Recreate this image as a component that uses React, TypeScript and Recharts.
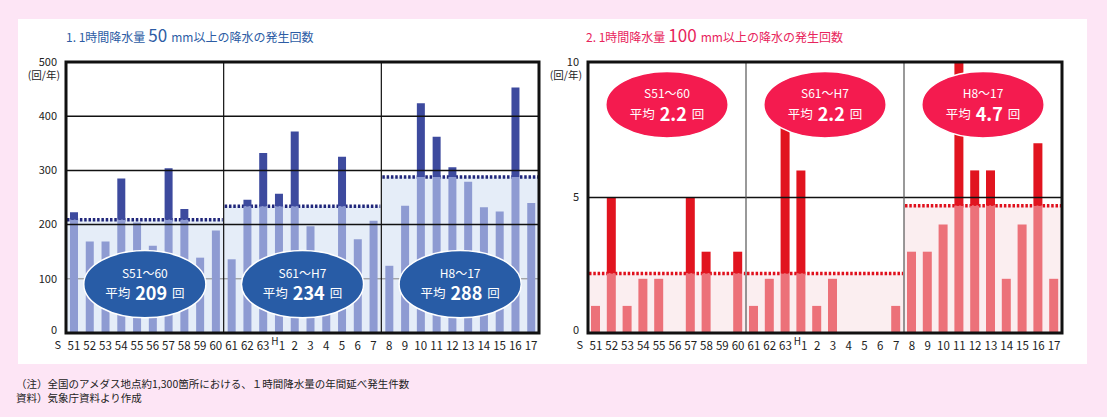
import { BarChart, Bar, XAxis, YAxis, ReferenceArea, ReferenceLine } from "recharts";

const FONT = '"Noto Sans CJK JP", "Noto Sans", sans-serif';

// 年次（S=昭和, H=平成）
const categories = [
  "S51", "S52", "S53", "S54", "S55", "S56", "S57", "S58", "S59", "S60",
  "S61", "S62", "S63", "H1", "H2", "H3", "H4", "H5", "H6", "H7",
  "H8", "H9", "H10", "H11", "H12", "H13", "H14", "H15", "H16", "H17",
];

// 1時間降水量50mm以上の発生回数（回/年）
const count50 = [
  223, 169, 169, 285, 204, 161, 304, 229, 139, 189,
  136, 246, 332, 257, 372, 197, 95, 325, 173, 207,
  124, 235, 424, 362, 306, 279, 232, 224, 453, 240,
];

// 1時間降水量100mm以上の発生回数（回/年）
const count100 = [
  1, 5, 1, 2, 2, 0, 5, 3, 0, 3,
  1, 2, 9, 6, 1, 2, 0, 0, 0, 1,
  3, 3, 4, 10, 6, 6, 2, 4, 7, 2,
];

const periodNames = ["S51～60", "S61～H7", "H8～17"];
const periodFirst = ["S51", "S61", "H8"];
const periodLast = ["S60", "H7", "H17"];
const avg50 = [209, 234, 288];
const avg100 = [2.2, 2.2, 4.7];

const ticks50 = [0, 100, 200, 300, 400, 500];
const ticks100 = [0, 5, 10];

const periodOf = (i: number) =>
  periodFirst.reduce((p, c, k) => (i >= categories.indexOf(c) ? k : p), 0);

function XTick(props: any) {
  const { x, y, payload, index } = props;
  const c: string = payload.value;
  const ty = y + 17;
  return (
    <g fill="#222" fontFamily={FONT} fontSize={11.5}>
      {index === 0 && (
        <text x={x - 16} y={ty - 1} textAnchor="middle" fontSize={11}>S</text>
      )}
      {c === "H1" ? (
        <>
          <text x={x - 4} y={ty - 5} textAnchor="middle" fontSize={10}>H</text>
          <text x={x + 3} y={ty} textAnchor="middle">1</text>
        </>
      ) : (
        <text x={x} y={ty} textAnchor="middle">{c.slice(1)}</text>
      )}
    </g>
  );
}

function YTick(props: any) {
  const { x, y, payload, top } = props;
  const shift = payload.value === 0 ? -3 : 0;
  return (
    <g fill="#222" fontFamily={FONT} fontSize={11}>
      <text x={x} y={y + shift} dy="0.35em" textAnchor="end">{payload.value}</text>
      {payload.value === top && (
        <text x={x + 3} y={y + 13} dy="0.35em" textAnchor="end" fontSize={10.5}>(回/年)</text>
      )}
    </g>
  );
}

function Badge(props: any) {
  const { x, y, width, height, fill, name, avg } = props;
  const cx = x + width / 2;
  const cy = y + height / 2;
  return (
    <g fontFamily={FONT} fill="#fff">
      <ellipse cx={cx} cy={cy} rx={width / 2 - 2} ry={height / 2} fill={fill} stroke="#fff" strokeWidth={1.5} />
      <text x={cx} y={cy - 12} textAnchor="middle" dominantBaseline="central" fontSize={12} fill="#fff">
        {name}
      </text>
      <text x={cx} y={cy + 8} textAnchor="middle" dominantBaseline="central" fill="#fff">
        <tspan fontSize={12.5}>平均</tspan>
        <tspan dx={5} fontSize={18} fontWeight="bold">{avg}</tspan>
        <tspan dx={5} fontSize={12.5}>回</tspan>
      </text>
    </g>
  );
}

function Shade(props: any) {
  const { x, y, width, height, fill, dot } = props;
  return (
    <g>
      <rect x={x} y={y} width={width} height={height} fill={fill} />
      <line x1={x + 1} x2={x + width - 1} y1={y} y2={y} stroke={dot} strokeWidth={3.5} strokeDasharray="2.5 1.8" />
    </g>
  );
}

interface ChartProps {
  values: number[];
  avgs: number[];
  ticks: number[];
  left: number;
  yWidth: number;
  plotWidth: number;
  barSize: number;
  light: string;
  dark: string;
  shade: string;
  dot: string;
  badge: string;
  divider: string;
  badgeY: [number, number];
  greyLines: number[];
  blackLines: number[];
}

function RainChart(p: ChartProps) {
  const max = p.ticks[p.ticks.length - 1];
  const data = categories.map((c, i) => {
    const a = p.avgs[periodOf(i)];
    const v = p.values[i];
    return { cat: c, value: v, lo: Math.min(v, a), hi: Math.max(v - a, 0) };
  });
  return (
    <div style={{ position: "absolute", left: p.left, top: 45 }}>
      <BarChart
        width={p.yWidth + p.plotWidth + 11}
        height={320}
        data={data}
        margin={{ top: 17, right: 11, left: 0, bottom: 0 }}
        barSize={p.barSize}
      >
        <XAxis
          dataKey="cat"
          interval={0}
          height={32}
          axisLine={false}
          tickLine={false}
          tickSize={0}
          tickMargin={0}
          tick={(t: any) => <XTick {...t} />}
        />
        <YAxis
          type="number"
          domain={[0, max]}
          ticks={p.ticks}
          width={p.yWidth}
          axisLine={false}
          tickLine={false}
          tickSize={0}
          tickMargin={9}
          allowDataOverflow
          tick={(t: any) => <YTick {...t} top={max} />}
        />
        {periodFirst.map((f, k) => (
          <ReferenceArea
            key={"s" + k}
            x1={f}
            x2={periodLast[k]}
            y1={0}
            y2={p.avgs[k]}
            zIndex={-60}
            shape={(s: any) => <Shade {...s} fill={p.shade} dot={p.dot} />}
          />
        ))}
        {p.greyLines.map((g) => (
          <ReferenceLine key={"g" + g} y={g} stroke="#888" strokeWidth={1} zIndex={-55} />
        ))}
        <Bar dataKey="lo" stackId="a" fill={p.light} isAnimationActive={false} />
        <Bar dataKey="hi" stackId="a" fill={p.dark} isAnimationActive={false} />
        {p.blackLines.map((g) => (
          <ReferenceLine key={"b" + g} y={g} stroke="#111" strokeWidth={1.5} zIndex={350} />
        ))}
        {periodFirst.slice(1).map((f) => (
          <ReferenceLine key={"d" + f} x={f} position="start" stroke={p.divider} strokeWidth={1.2} zIndex={350} />
        ))}
        <ReferenceArea y1={0} y2={max} fill="none" stroke="#111" strokeWidth={3} zIndex={360} />
        {periodFirst.map((f, k) => {
          const i = categories.indexOf(f);
          return (
            <ReferenceArea
              key={"e" + k}
              x1={categories[i + 1]}
              x2={categories[i + 8]}
              y1={p.badgeY[0]}
              y2={p.badgeY[1]}
              zIndex={1500}
              shape={(s: any) => <Badge {...s} fill={p.badge} name={periodNames[k]} avg={p.avgs[k]} />}
            />
          );
        })}
      </BarChart>
    </div>
  );
}

export default function App() {
  return (
    <div
      style={{
        position: "absolute",
        left: 0,
        top: 0,
        width: 1107,
        height: 417,
        background: "#fde5f5",
        overflow: "hidden",
        fontFamily: FONT,
      }}
    >
      <div style={{ position: "absolute", left: 18, top: 19, width: 1069, height: 345, background: "#fff" }} />

      <div style={{ position: "absolute", left: 66, top: 25, color: "#2d5ca4", fontSize: 12, whiteSpace: "nowrap", lineHeight: "20px" }}>
        1. 1時間降水量<span style={{ fontSize: 17, marginLeft: 3 }}>50</span>
        <span style={{ marginLeft: 4 }}>mm</span>以上の降水の発生回数
      </div>
      <div style={{ position: "absolute", left: 586, top: 25, color: "#e8245c", fontSize: 12, whiteSpace: "nowrap", lineHeight: "20px" }}>
        2. 1時間降水量<span style={{ fontSize: 17, marginLeft: 3 }}>100</span>
        <span style={{ marginLeft: 4 }}>mm</span>以上の降水の発生回数
      </div>

      <RainChart
        values={count50}
        avgs={avg50}
        ticks={ticks50}
        left={10}
        yWidth={56}
        plotWidth={473}
        barSize={8}
        light="#8e9bd2"
        dark="#3d4a9e"
        shade="#e5edf8"
        dot="#20267a"
        badge="#285ca6"
        divider="#111"
        badgeY={[28, 152]}
        greyLines={[100]}
        blackLines={[200, 300, 400]}
      />
      <RainChart
        values={count100}
        avgs={avg100}
        ticks={ticks100}
        left={530}
        yWidth={58}
        plotWidth={474}
        barSize={9}
        light="#ec7179"
        dark="#e1141f"
        shade="#fbeef0"
        dot="#e0101c"
        badge="#f41b4f"
        divider="#555"
        badgeY={[7.2, 9.65]}
        greyLines={[]}
        blackLines={[5]}
      />

      <div style={{ position: "absolute", left: 16, top: 377, fontSize: 10.5, lineHeight: "14px", color: "#222", whiteSpace: "nowrap" }}>
        <div>（注）全国のアメダス地点約1,300箇所における、１時間降水量の年間延べ発生件数</div>
        <div>資料）気象庁資料より作成</div>
      </div>
    </div>
  );
}
